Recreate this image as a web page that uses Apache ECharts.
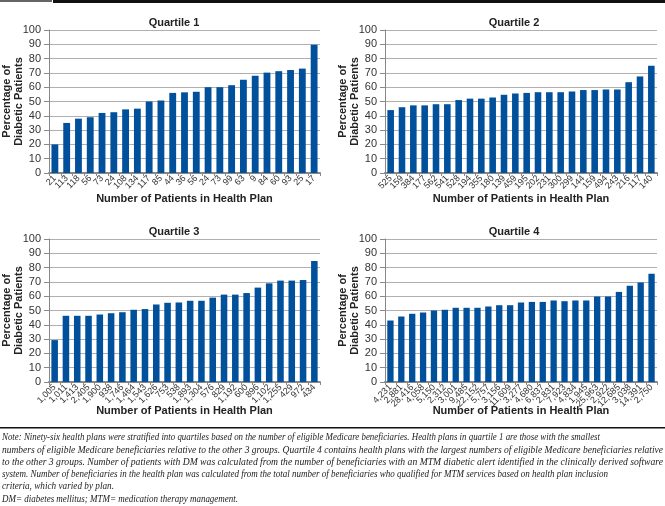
<!DOCTYPE html>
<html><head><meta charset="utf-8">
<script src="https://cdn.jsdelivr.net/npm/echarts@6/dist/echarts.min.js"></script>
<style>html,body{margin:0;padding:0;background:#fff}#c{width:665px;height:506px}</style>
</head><body><div id="c"></div>
<script>
const titles = ['Quartile 1','Quartile 2','Quartile 3','Quartile 4'];
const q1Labels = ['21','113','118','56','73','24','108','134','117','85','44','36','56','24','73','99','63','9','84','60','93','25','17'];
const q1Values = [20,35,38,39,42,42.5,44.5,45,50,50.7,56,56.4,56.8,60,60,61.4,65.2,68,70.2,71.2,72,73,89.7];
const q2Labels = ['525','159','384','177','562','541','528','194','355','180','139','459','195','202','231','300','299','144','159','494','243','216','117','140'];
const q2Values = [44,46,47.3,47.3,48.1,48.1,51,52,52,52.8,54.7,55.6,56,56.5,56.5,56.5,57,58,58,58.4,58.4,63.5,67.5,75];
const q3Labels = ['1,005','1,011','1,413','2,405','1,900','938','1,746','1,464','1,543','1,626','753','538','1,893','1,304','576','829','1,192','600','896','1,102','1,255','429','972','434'];
const q3Values = [29.3,46.3,46.3,46.3,47.2,48.1,48.8,50.5,51,54.2,55.4,55.6,56.8,56.8,59,61.1,61.1,62.2,66,69,70.9,70.9,71.3,84.6];
const q4Labels = ['4,231','2,881','28,416','4,058','5,150','2,312','3,001','9,485','22,152','5,757','3,156','11,609','3,277','4,680','6,837','2,831','7,923','4,834','1,945','25,963','2,922','12,685','3,038','14,391','2,750'];
const q4Values = [43,45.8,47.7,48.6,50,50.5,51.9,51.9,51.9,52.8,53.7,53.7,55.6,56,56,57,56.5,57,57,59.8,59.8,63,67.3,69.6,75.7];
const yTicks = {min:0, max:100, interval:10};
const xName = 'Number of Patients in Health Plan';
const yName = 'Percentage of\nDiabetic Patients';
const noteLines = [
 'Note: Ninety-six health plans were stratified into quartiles based on the number of eligible Medicare beneficiaries. Health plans in quartile 1 are those with the smallest',
 'numbers of eligible Medicare beneficiaries relative to the other 3 groups. Quartile 4 contains health plans with the largest numbers of eligible Medicare beneficiaries relative',
 'to the other 3 groups. Number of patients with DM was calculated from the number of beneficiaries with an MTM diabetic alert identified in the clinically derived software',
 'system. Number of beneficiaries in the health plan was calculated from the total number of beneficiaries who qualified for MTM services based on health plan inclusion',
 'criteria, which varied by plan.',
 'DM= diabetes mellitus; MTM= medication therapy management.'
];
const noteWidths = [598, 661, 661, 606, 112, 236];

const labelsAll = [q1Labels,q2Labels,q3Labels,q4Labels];
const valuesAll = [q1Values,q2Values,q3Values,q4Values];
const FONT = '"Liberation Sans", Arial, sans-serif';
const NOTE_FONT = 'italic 10.5px "Liberation Serif", serif';
const grids = [
  {left:45, top:30, width:275, height:143},
  {left:385, top:30, width:272, height:143},
  {left:45, top:239, width:275, height:143},
  {left:385, top:239, width:272, height:143}
];
const titlePos = [[169,12],[509,12],[169,221],[509,221]];
const xNameGap = [20,20,23,23];

const mctx = document.createElement('canvas').getContext('2d');
mctx.font = NOTE_FONT;

const chart = echarts.init(document.getElementById('c'), null, {renderer:'canvas'});
const option = {
  animation:false,
  title: titles.map((t,i)=>({text:t, left:titlePos[i][0], top:titlePos[i][1], textAlign:'center',
    textStyle:{fontSize:11, fontWeight:'bold', color:'#222', fontFamily:FONT}})),
  grid: grids.map(g=>Object.assign({containLabel:false}, g)),
  xAxis: labelsAll.map((l,i)=>({type:'category', gridIndex:i, data:l,
    name:xName, nameLocation:'middle', nameGap:xNameGap[i], nameMoveOverlap:false,
    nameTextStyle:{fontSize:11, fontWeight:'bold', color:'#222', fontFamily:FONT},
    axisLine:{lineStyle:{color:'#888', width:2}},
    axisTick:{show:true, length:3, lineStyle:{color:'#888'}},
    axisLabel:{interval:0, rotate:45, fontSize:9, color:'#333', margin:4, fontFamily:FONT}
  })),
  yAxis: labelsAll.map((l,i)=>({type:'value', gridIndex:i, min:yTicks.min, max:yTicks.max, interval:yTicks.interval,
    name:yName, nameLocation:'middle', nameGap:24, nameRotate:90, nameMoveOverlap:false,
    nameTextStyle:{fontSize:11, fontWeight:'bold', color:'#222', fontFamily:FONT, lineHeight:12},
    axisLine:{show:true, lineStyle:{color:'#888', width:1}},
    axisTick:{show:true, length:5, lineStyle:{color:'#888'}},
    axisLabel:{fontSize:11, color:'#333', margin:8, fontFamily:FONT},
    splitLine:{show:true, lineStyle:{color:'#b0b0b0', width:1}}
  })),
  series: valuesAll.map((v,i)=>({type:'bar', xAxisIndex:i, yAxisIndex:i, data:v, barWidth:'58%',
    itemStyle:{color:'#00509c'}})),
  graphic: [
    {type:'rect', shape:{x:0,y:0,width:52,height:2}, style:{fill:'#666'}},
    {type:'rect', shape:{x:53,y:0,width:612,height:3}, style:{fill:'#111'}},
    {type:'rect', shape:{x:0,y:427,width:665,height:1.5}, style:{fill:'#111'}}
  ].concat(noteLines.map((t,i)=>{
    const w = mctx.measureText(t).width;
    return {type:'text', x:2, y:432+i*12.3, scaleX: noteWidths[i]/w, originX:0,
      style:{text:t, fill:'#222', font:NOTE_FONT}};
  }))
};
chart.setOption(option);
</script></body></html>
